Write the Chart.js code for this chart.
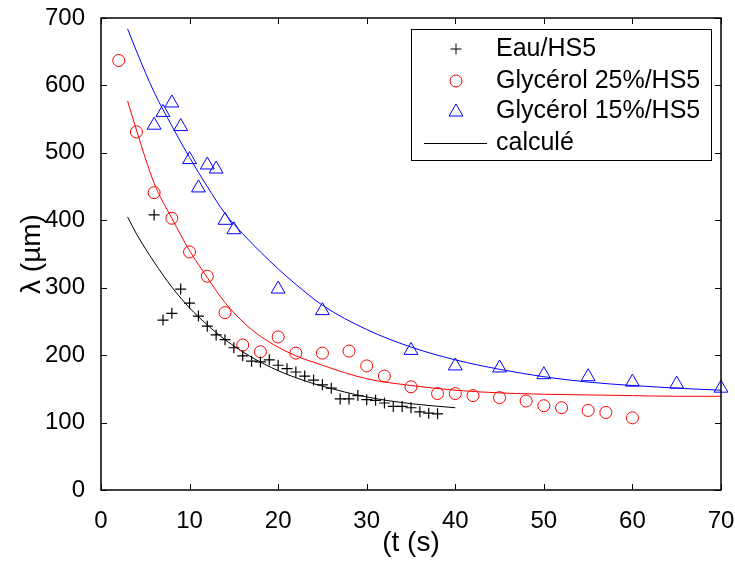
<!DOCTYPE html>
<html>
<head>
<meta charset="utf-8">
<script src="https://cdn.jsdelivr.net/npm/chart.js@4.4.1/dist/chart.umd.min.js"></script>
<style>
  html, body { margin: 0; padding: 0; background: #fff; }
</style>
</head>
<body>
<canvas id="chart" width="735" height="562"></canvas>
<script>
// Mesures : temps (s) et longueur d'onde (µm)
const eauT = [6, 7, 8, 9, 10, 11, 12, 13, 14, 15, 16, 17, 18, 19, 20, 21, 22, 23, 24, 25, 26, 27, 28, 29, 30, 31, 32, 33, 34, 35, 36, 37, 38];
const eauLambda = [408, 252, 262, 298, 277, 258, 243, 230, 223, 211, 199, 191, 190, 193, 185, 180, 175, 169, 163, 156, 151, 135, 135, 140, 134, 133, 129, 124, 124, 122, 116, 114, 113];

const gly25T = [2, 4, 6, 8, 10, 12, 14, 16, 18, 20, 22, 25, 28, 30, 32, 35, 38, 40, 42, 45, 48, 50, 52, 55, 57, 60];
const gly25Lambda = [637, 531, 441, 403, 353, 317, 263, 215, 205, 227, 203, 203, 206, 184, 169, 153, 143, 143, 140, 137, 132, 125, 122, 118, 115, 107];

const gly15T = [6, 7, 8, 9, 10, 11, 12, 13, 14, 15, 20, 25, 35, 40, 45, 50, 55, 60, 65, 70];
const gly15Lambda = [541, 560, 574, 539, 490, 448, 482, 476, 400, 386, 298, 266, 207, 184, 181, 171, 168, 160, 157, 151];

// Courbes calculées
const calcEauT = [3, 4, 6, 8, 10, 12, 14, 17, 20, 23, 25, 30, 35, 40];
const calcEauLambda = [405, 380, 338, 301, 270, 245, 223, 197, 177, 162, 154, 138, 128, 122];

const calc25T = [3, 4, 6, 8, 10, 12, 14, 17, 21, 25, 30, 35, 40, 45, 50, 55, 60, 65, 70];
const calc25Lambda = [577, 534, 455, 403, 355, 315, 278, 238, 205, 185, 165, 155, 148, 144, 142, 141, 140, 139, 139];

const calc15T = [3, 4, 6, 8, 10, 12, 14, 16, 18, 20, 22, 25, 30, 35, 40, 45, 50, 55, 60, 65, 70];
const calc15Lambda = [684, 651, 590, 540, 493, 450, 410, 380, 353, 328, 305, 274, 238, 212, 193, 179, 168, 160, 155, 151, 148];

const X_TICKS = [0, 10, 20, 30, 40, 50, 60, 70];
const Y_TICKS = [0, 100, 200, 300, 400, 500, 600, 700];

const FONT = '"Liberation Sans", Arial, Helvetica, sans-serif';

function points(xs, ys) {
  return xs.map((x, i) => ({ x: x, y: ys[i] }));
}

// Légende dessinée dans le cadre, en haut à droite
function drawMarker(ctx, style, x, y, r) {
  ctx.beginPath();
  if (style === "cross") {
    ctx.moveTo(x - r, y); ctx.lineTo(x + r, y);
    ctx.moveTo(x, y - r); ctx.lineTo(x, y + r);
  } else if (style === "circle") {
    ctx.arc(x, y, r, 0, Math.PI * 2);
  } else if (style === "triangle") {
    for (let k = 0; k < 3; k++) {
      const a = k * 2 * Math.PI / 3;
      const px = x + Math.sin(a) * r;
      const py = y - Math.cos(a) * r;
      if (k === 0) ctx.moveTo(px, py); else ctx.lineTo(px, py);
    }
    ctx.closePath();
  }
  ctx.stroke();
}

const cadrePlugin = {
  id: "cadre",
  afterDraw(chart) {
    const { ctx, chartArea: a, scales } = chart;
    ctx.save();
    ctx.strokeStyle = "#000";
    ctx.lineWidth = 1;
    const tl = 6;
    ctx.beginPath();
    X_TICKS.forEach((v) => {
      const px = Math.round(scales.x.getPixelForValue(v)) + 0.5;
      ctx.moveTo(px, a.bottom); ctx.lineTo(px, a.bottom - tl);
      ctx.moveTo(px, a.top); ctx.lineTo(px, a.top + tl);
    });
    Y_TICKS.forEach((v) => {
      const py = Math.round(scales.y.getPixelForValue(v)) + 0.5;
      ctx.moveTo(a.left, py); ctx.lineTo(a.left + tl, py);
      ctx.moveTo(a.right, py); ctx.lineTo(a.right - tl, py);
    });
    ctx.stroke();
    ctx.lineWidth = 1.5;
    ctx.strokeRect(a.left, a.top, a.right - a.left, a.bottom - a.top);

    // légende
    const bx = 411.5, by = 29.5, bw = 300, bh = 131;
    ctx.fillStyle = "#fff";
    ctx.fillRect(bx, by, bw, bh);
    ctx.lineWidth = 1;
    ctx.strokeStyle = "#000";
    ctx.strokeRect(bx, by, bw, bh);
    const rows = [49, 81, 111, 143];
    const entries = chart.data.datasets.filter((d) => d.enLegende);
    ctx.font = "25px " + FONT;
    ctx.textBaseline = "middle";
    ctx.textAlign = "left";
    entries.forEach((d, i) => {
      const y = rows[i];
      ctx.strokeStyle = d.borderColor;
      ctx.lineWidth = 1;
      if (d.showLine) {
        ctx.beginPath();
        ctx.moveTo(424, y + 0.5); ctx.lineTo(487, y + 0.5);
        ctx.stroke();
      } else {
        drawMarker(ctx, d.pointStyle, 456, d.pointStyle === "triangle" ? y + 1 : y, d.pointRadius);
      }
      ctx.fillStyle = "#000";
      ctx.fillText(d.label, 496, y);
    });
    ctx.restore();
  },
};

const ctx = document.getElementById("chart").getContext("2d");
new Chart(ctx, {
  type: "scatter",
  data: {
    datasets: [
      {
        label: "Eau/HS5",
        data: points(eauT, eauLambda),
        pointStyle: "cross",
        pointRadius: 5.5,
        borderColor: "#000000",
        backgroundColor: "transparent",
        borderWidth: 1.2,
        clip: false,
        enLegende: true,
      },
      {
        label: "Glycérol 25%/HS5",
        data: points(gly25T, gly25Lambda),
        pointStyle: "circle",
        pointRadius: 6,
        borderColor: "#ff0000",
        backgroundColor: "transparent",
        borderWidth: 1,
        clip: false,
        enLegende: true,
      },
      {
        label: "Glycérol 15%/HS5",
        data: points(gly15T, gly15Lambda),
        pointStyle: "triangle",
        pointRadius: 8,
        borderColor: "#0000ff",
        backgroundColor: "transparent",
        borderWidth: 1,
        clip: false,
        enLegende: true,
      },
      {
        label: "calculé",
        data: points(calcEauT, calcEauLambda),
        showLine: true,
        pointRadius: 0,
        borderColor: "#000000",
        borderWidth: 1,
        cubicInterpolationMode: "monotone",
        enLegende: true,
      },
      {
        label: "",
        data: points(calc25T, calc25Lambda),
        showLine: true,
        pointRadius: 0,
        borderColor: "#ff0000",
        borderWidth: 1,
        cubicInterpolationMode: "monotone",
      },
      {
        label: "",
        data: points(calc15T, calc15Lambda),
        showLine: true,
        pointRadius: 0,
        borderColor: "#0000ff",
        borderWidth: 1,
        cubicInterpolationMode: "monotone",
      },
    ],
  },
  options: {
    responsive: false,
    animation: false,
    events: [],
    layout: { padding: { top: 18, right: 14, left: 0, bottom: 0 } },
    plugins: {
      legend: { display: false },
      tooltip: { enabled: false },
    },
    scales: {
      x: {
        type: "linear",
        min: 0,
        max: 70,
        afterFit: (s) => {
          s.height = 72;
          s.paddingLeft = 0;
          s.paddingRight = 0;
        },
        afterBuildTicks: (s) => { s.ticks = X_TICKS.map((v) => ({ value: v })); },
        ticks: {
          font: { family: FONT, size: 24 },
          color: "#000",
          padding: 9,
          maxRotation: 0,
        },
        grid: { display: false },
        border: { display: false },
        title: {
          display: true,
          text: "(t (s)",
          font: { family: FONT, size: 28 },
          color: "#000",
          padding: { top: 0, bottom: 2 },
        },
      },
      y: {
        type: "linear",
        min: 0,
        max: 700,
        afterFit: (s) => {
          s.width = 101;
          s.paddingTop = 0;
          s.paddingBottom = 0;
        },
        afterBuildTicks: (s) => { s.ticks = Y_TICKS.map((v) => ({ value: v })); },
        ticks: {
          font: { family: FONT, size: 24 },
          color: "#000",
          padding: 8,
        },
        grid: { display: false },
        border: { display: false },
        title: {
          display: true,
          text: "λ (µm)",
          font: { family: FONT, size: 28 },
          color: "#000",
          padding: { top: 15, bottom: 0 },
        },
      },
    },
  },
  plugins: [cadrePlugin],
});
</script>
</body>
</html>
